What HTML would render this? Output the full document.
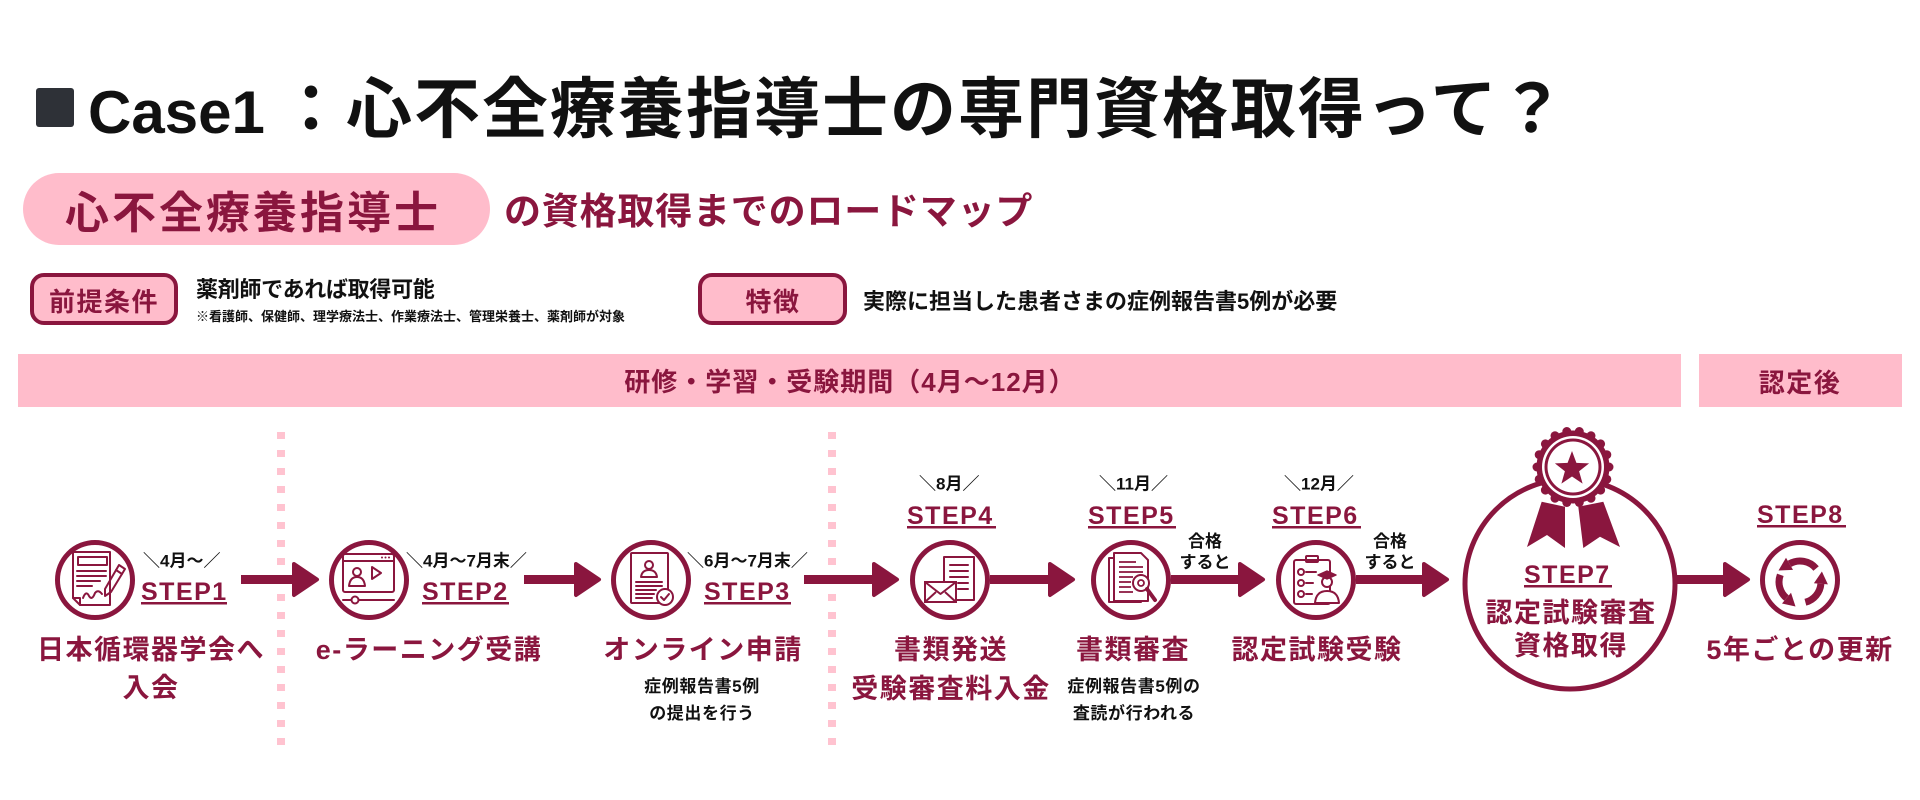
<!DOCTYPE html>
<html lang="ja">
<head>
<meta charset="utf-8">
<title>Case1 心不全療養指導士</title>
<style>
html,body{margin:0;padding:0;background:#fff;}
body{width:1920px;height:800px;overflow:hidden;}
svg{display:block;}
text{font-family:"Liberation Sans","Noto Sans CJK JP",sans-serif;font-weight:700;}
.c{fill:#8A163E;}
.k{fill:#111;}
</style>
</head>
<body>
<svg width="1920" height="800" viewBox="0 0 1920 800" xmlns="http://www.w3.org/2000/svg">
  <rect x="0" y="0" width="1920" height="800" fill="#fff"/>

  <!-- Title -->
  <rect x="36" y="88" width="38" height="39" rx="3" fill="#2E3137"/>
  <text x="88" y="133" font-size="60" class="k">Case1</text>
  <text x="278" y="132" font-size="66" letter-spacing="2" class="k">：心不全療養指導士の専門資格取得って？</text>

  <!-- Pill + subtitle -->
  <rect x="23" y="173" width="467" height="72" rx="36" fill="#FFBCCB"/>
  <text x="65" y="228" font-size="44" letter-spacing="3" class="c">心不全療養指導士</text>
  <text x="504" y="224" font-size="37" letter-spacing="0.8" class="c">の資格取得までのロードマップ</text>

  <!-- Condition row -->
  <rect x="32" y="275" width="144" height="48" rx="12" fill="#FFBCCB" stroke="#8A163E" stroke-width="4"/>
  <text x="104" y="311" font-size="26" letter-spacing="1.5" text-anchor="middle" class="c">前提条件</text>
  <text x="196" y="297" font-size="22" letter-spacing="-0.3" class="k">薬剤師であれば取得可能</text>
  <text x="196" y="321" font-size="13" class="k">※看護師、保健師、理学療法士、作業療法士、管理栄養士、薬剤師が対象</text>

  <rect x="700" y="275" width="145" height="48" rx="12" fill="#FFBCCB" stroke="#8A163E" stroke-width="4"/>
  <text x="773" y="311" font-size="26" letter-spacing="1.5" text-anchor="middle" class="c">特徴</text>
  <text x="863" y="309" font-size="22" class="k">実際に担当した患者さまの症例報告書5例が必要</text>

  <!-- Bands -->
  <rect x="18" y="354" width="1663" height="53" fill="#FFBCCB"/>
  <rect x="1699" y="354" width="203" height="53" fill="#FFBCCB"/>
  <text x="850" y="391" font-size="26" letter-spacing="1" text-anchor="middle" class="c">研修・学習・受験期間（4月～12月）</text>
  <text x="1800" y="392" font-size="26" letter-spacing="1.5" text-anchor="middle" class="c">認定後</text>

  <!-- Dotted separators -->
  <line x1="281" y1="432" x2="281" y2="746" stroke="#FFC3D0" stroke-width="8" stroke-dasharray="7 11"/>
  <line x1="832" y1="432" x2="832" y2="746" stroke="#FFC3D0" stroke-width="8" stroke-dasharray="7 11"/>

  <!-- Step circles -->
  <g fill="none" stroke="#8A163E" stroke-width="5">
    <circle cx="95" cy="580" r="37.5"/>
    <circle cx="369" cy="580" r="37.5"/>
    <circle cx="651" cy="580" r="37.5"/>
    <circle cx="950" cy="580" r="37.5"/>
    <circle cx="1131" cy="580" r="37.5"/>
    <circle cx="1316" cy="580" r="37.5"/>
    <circle cx="1800" cy="580" r="37.5"/>
    <circle cx="1570" cy="584" r="105"/>
  </g>

  <!-- Arrows -->
  <g fill="#8A163E" stroke="#8A163E" stroke-width="4" stroke-linejoin="round">
    <rect x="241" y="575" width="55" height="9" stroke="none"/>
    <polygon points="294,564 317,579.5 294,595"/>
    <rect x="524" y="575" width="54" height="9" stroke="none"/>
    <polygon points="576,564 599,579.5 576,595"/>
    <rect x="804" y="575" width="72" height="9" stroke="none"/>
    <polygon points="874,564 897,579.5 874,595"/>
    <rect x="990" y="575" width="62" height="9" stroke="none"/>
    <polygon points="1050,564 1073,579.5 1050,595"/>
    <rect x="1171" y="575" width="71" height="9" stroke="none"/>
    <polygon points="1240,564 1263,579.5 1240,595"/>
    <rect x="1356" y="575" width="70" height="9" stroke="none"/>
    <polygon points="1424,564 1447,579.5 1424,595"/>
    <rect x="1677" y="575" width="50" height="9" stroke="none"/>
    <polygon points="1725,564 1748,579.5 1725,595"/>
  </g>

  <!-- Icon S1: document + pencil -->
  <g fill="none" stroke="#8A163E" stroke-width="2" stroke-linejoin="round" stroke-linecap="round">
    <path d="M73,552 H110 V605 H80 L73,598 Z"/>
    <path d="M73,598 H80 V605"/>
    <rect x="78" y="557" width="29" height="8"/>
    <path d="M77,571 H106 M77,576 H106 M77,581 H100 M77,586 H92"/>
    <path d="M83,598 q3,-8 6,-2 q3,5 6,-3 q3,-4 7,1"/>
    <path d="M119,565 L125,569 L111,592 L105,596 L105,589 Z"/>
    <path d="M116,570 L122,574"/>
  </g>

  <!-- Icon S2: video window -->
  <g fill="none" stroke="#8A163E" stroke-width="2" stroke-linejoin="round" stroke-linecap="round">
    <rect x="343" y="554" width="51" height="38" rx="2"/>
    <path d="M343,561 H394"/>
    <circle cx="357" cy="572" r="4"/>
    <path d="M349,586 q1,-9 8,-9 q7,0 8,9 Z"/>
    <path d="M372,567 L381,573 L372,579 Z"/>
    <path d="M343,600 H394"/>
  </g>
  <g fill="#8A163E">
    <circle cx="382" cy="557.5" r="1"/><circle cx="385.5" cy="557.5" r="1"/><circle cx="389" cy="557.5" r="1"/>
  </g>
  <circle cx="355" cy="600" r="3.5" fill="#fff" stroke="#8A163E" stroke-width="2"/>

  <!-- Icon S3: application doc + check -->
  <g fill="none" stroke="#8A163E" stroke-width="2" stroke-linejoin="round" stroke-linecap="round">
    <rect x="631" y="553" width="37" height="50" rx="1"/>
    <circle cx="649" cy="565" r="4"/>
    <path d="M641,577 q1,-7 8,-7 q7,0 8,7 Z"/>
    <path d="M636,582 H662 M636,586 H662 M636,590 H656 M636,594 H654 M636,598 H652"/>
  </g>
  <circle cx="665" cy="597" r="8" fill="#fff" stroke="#8A163E" stroke-width="2"/>
  <path d="M661,597 l3,3 l5,-6" fill="none" stroke="#8A163E" stroke-width="2" stroke-linecap="round" stroke-linejoin="round"/>

  <!-- Icon S4: doc + envelope -->
  <g fill="none" stroke="#8A163E" stroke-width="2" stroke-linejoin="round" stroke-linecap="round">
    <rect x="944" y="557" width="30" height="43"/>
    <path d="M950,565 H968 M950,571 H968 M950,577 H968 M958,583 H968 M958,589 H968"/>
  </g>
  <rect x="925" y="582" width="31" height="20" fill="#fff" stroke="#8A163E" stroke-width="2"/>
  <path d="M925,582 L940.5,594 L956,582 M925,602 L936,592 M956,602 L945,592" fill="none" stroke="#8A163E" stroke-width="2" stroke-linejoin="round"/>

  <!-- Icon S5: docs + magnifier -->
  <g fill="none" stroke="#8A163E" stroke-width="2" stroke-linejoin="round" stroke-linecap="round">
    <rect x="1109" y="558" width="32" height="44"/>
  </g>
  <path d="M1114,553 H1141 L1148,560 V601 H1114 Z" fill="#fff" stroke="#8A163E" stroke-width="2" stroke-linejoin="round"/>
  <path d="M1119,562 H1136 M1119,567 H1143 M1119,572 H1143 M1119,577 H1133 M1119,582 H1131 M1119,587 H1131 M1119,592 H1133" fill="none" stroke="#8A163E" stroke-width="1.8"/>
  <circle cx="1141" cy="583" r="8" fill="#fff" stroke="#8A163E" stroke-width="2"/>
  <circle cx="1141" cy="583" r="3" fill="none" stroke="#8A163E" stroke-width="1.8"/>
  <path d="M1147,589 L1155,600" stroke="#8A163E" stroke-width="4" stroke-linecap="round"/>

  <!-- Icon S6: clipboard + graduate -->
  <g fill="none" stroke="#8A163E" stroke-width="2" stroke-linejoin="round" stroke-linecap="round">
    <rect x="1294" y="560" width="36" height="44" rx="2"/>
    <rect x="1306" y="556" width="12" height="6" rx="1"/>
    <circle cx="1301" cy="572" r="3"/><circle cx="1301" cy="583" r="3"/><circle cx="1301" cy="594" r="3"/>
    <path d="M1306,572 H1316 M1306,583 H1313 M1306,594 H1312"/>
  </g>
  <path d="M1315,603 q1,-12 12,-12 q11,0 12,12 Z" fill="#fff" stroke="#8A163E" stroke-width="2" stroke-linejoin="round"/>
  <circle cx="1327" cy="582" r="5" fill="#fff" stroke="#8A163E" stroke-width="2"/>
  <path d="M1318,575 L1327,571 L1336,575 L1327,579 Z" fill="#8A163E" stroke="#8A163E" stroke-width="1.5" stroke-linejoin="round"/>

  <!-- Icon S8: rotating arrows -->
  <g fill="none" stroke="#8A163E" stroke-width="7">
    <path d="M1816.1,568.5 A21,21 0 0 0 1789.5,563.8"/>
    <path d="M1780.3,574.8 A21,21 0 0 0 1786.5,598.1"/>
    <path d="M1805.4,602.3 A21,21 0 0 0 1820.9,583.8"/>
  </g>
  <g fill="#8A163E">
    <polygon points="1778.5,570.5 1786,557.7 1793,569.9"/>
    <polygon points="1795.5,606.5 1782,603.5 1791,592.7"/>
    <polygon points="1821.9,571.5 1827.9,584.4 1813.9,583.2"/>
  </g>

  <!-- S7 medal -->
  <g fill="#8A163E">
    <polygon points="1541.7,501.7 1565,506.7 1565,548 1547,535 1527,547"/>
    <polygon points="1578.3,506.7 1603.3,501.7 1620,547 1600,536.7 1583.3,548"/>
    <circle cx="1573" cy="467" r="36.5"/>
    <circle cx="1609" cy="467" r="4.5"/><circle cx="1606.8" cy="479.3" r="4.5"/><circle cx="1600.6" cy="490.1" r="4.5"/>
    <circle cx="1591" cy="498.2" r="4.5"/><circle cx="1579.3" cy="502.5" r="4.5"/><circle cx="1566.8" cy="502.5" r="4.5"/>
    <circle cx="1555" cy="498.2" r="4.5"/><circle cx="1545.4" cy="490.1" r="4.5"/><circle cx="1539.2" cy="479.3" r="4.5"/>
    <circle cx="1537" cy="467" r="4.5"/><circle cx="1539.2" cy="454.7" r="4.5"/><circle cx="1545.4" cy="443.9" r="4.5"/>
    <circle cx="1555" cy="435.8" r="4.5"/><circle cx="1566.8" cy="431.5" r="4.5"/><circle cx="1579.3" cy="431.5" r="4.5"/>
    <circle cx="1591" cy="435.8" r="4.5"/><circle cx="1600.6" cy="443.9" r="4.5"/><circle cx="1606.8" cy="454.7" r="4.5"/>
  </g>
  <circle cx="1573" cy="467" r="31" fill="#fff"/>
  <circle cx="1573" cy="467" r="28.5" fill="#8A163E"/>
  <circle cx="1573" cy="467" r="25.5" fill="#fff"/>
  <polygon fill="#8A163E" points="1572,451 1576.4,462.9 1589.1,463.4 1579.1,471.3 1582.6,483.6 1572,476.5 1561.4,483.6 1564.9,471.3 1554.9,463.4 1567.6,462.9"/>

  <!-- Date labels -->
  <text x="143" y="566.5" font-size="17" class="k">＼4月～／</text>
  <text x="406" y="566.5" font-size="17" class="k">＼4月～7月末／</text>
  <text x="687" y="566.5" font-size="17" class="k">＼6月～7月末／</text>
  <text x="919" y="489.5" font-size="17" class="k">＼8月／</text>
  <text x="1099" y="489.5" font-size="17" class="k">＼11月／</text>
  <text x="1284" y="489.5" font-size="17" class="k">＼12月／</text>

  <!-- STEP labels -->
  <g font-size="25" letter-spacing="1.5" class="c">
    <text x="141" y="600" class="c">STEP1</text>
    <text x="422" y="600" class="c">STEP2</text>
    <text x="704" y="600" class="c">STEP3</text>
    <text x="907" y="524" class="c">STEP4</text>
    <text x="1088" y="524" class="c">STEP5</text>
    <text x="1272" y="524" class="c">STEP6</text>
    <text x="1524" y="583" class="c">STEP7</text>
    <text x="1757" y="523" class="c">STEP8</text>
  </g>
  <g fill="#8A163E">
    <rect x="141" y="602" width="86" height="2.5"/>
    <rect x="422" y="602" width="87" height="2.5"/>
    <rect x="704" y="602" width="87" height="2.5"/>
    <rect x="907" y="526" width="89" height="2.5"/>
    <rect x="1088" y="526" width="88" height="2.5"/>
    <rect x="1272" y="526" width="89" height="2.5"/>
    <rect x="1524" y="585" width="88" height="2.5"/>
    <rect x="1757" y="525" width="89" height="2.5"/>
  </g>

  <!-- Main labels -->
  <g font-size="27" letter-spacing="1.5" text-anchor="middle">
    <text x="151" y="659" class="c">日本循環器学会へ</text>
    <text x="151" y="697" class="c">入会</text>
    <text x="429" y="659" class="c">e-ラーニング受講</text>
    <text x="703" y="659" class="c">オンライン申請</text>
    <text x="951" y="659" class="c">書類発送</text>
    <text x="951" y="698" class="c">受験審査料入金</text>
    <text x="1133" y="659" class="c">書類審査</text>
    <text x="1317" y="659" class="c">認定試験受験</text>
    <text x="1571" y="622" class="c">認定試験審査</text>
    <text x="1571" y="655" class="c">資格取得</text>
    <text x="1800" y="659" class="c">5年ごとの更新</text>
  </g>

  <!-- Sub labels -->
  <g font-size="17" letter-spacing="0.6" text-anchor="middle">
    <text x="702" y="692" class="k">症例報告書5例</text>
    <text x="702" y="719" class="k">の提出を行う</text>
    <text x="1134" y="692" class="k">症例報告書5例の</text>
    <text x="1134" y="719" class="k">査読が行われる</text>
  </g>

  <!-- 合格すると -->
  <g font-size="17" text-anchor="middle">
    <text x="1205" y="547" class="k">合格</text>
    <text x="1205" y="568" class="k">すると</text>
    <text x="1390" y="547" class="k">合格</text>
    <text x="1390" y="568" class="k">すると</text>
  </g>
</svg>
</body>
</html>
